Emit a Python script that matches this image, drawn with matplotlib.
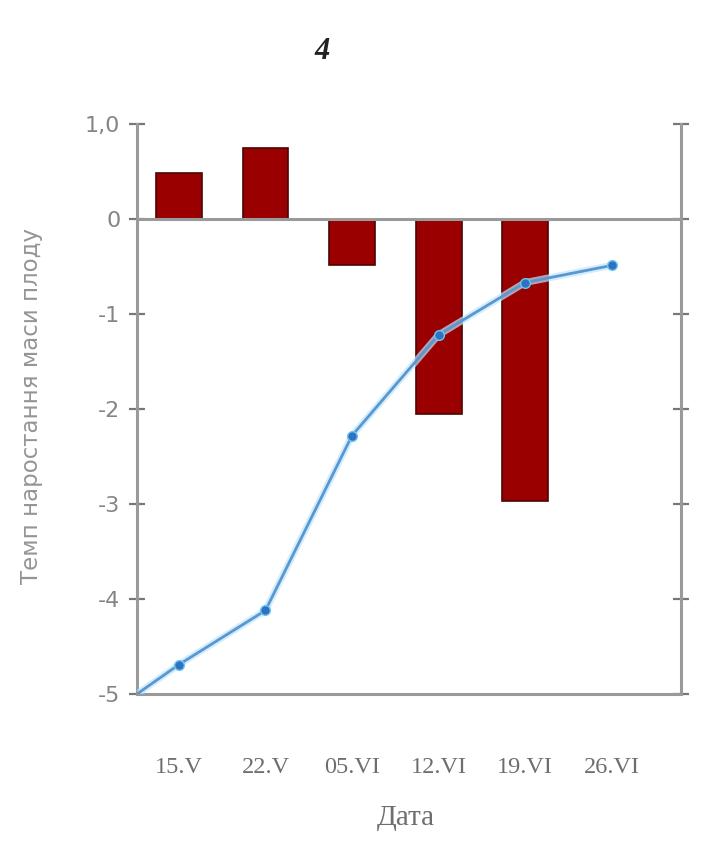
import matplotlib
matplotlib.use("Agg")
import matplotlib.pyplot as plt
import numpy as np

# ---- data ----
dates = ["15.V", "22.V", "05.VI", "12.VI", "19.VI", "26.VI"]
bar_values = [0.48, 0.75, -0.49, -2.05, -2.97]          # bars for first five dates
line_start = -5.0                                        # line begins at the axis corner
line_values = [-4.69, -4.12, -2.28, -1.22, -0.67, -0.49]
y_ticks = [1.0, 0, -1, -2, -3, -4, -5]
y_tick_labels = ["1,0", "0", "-1", "-2", "-3", "-4", "-5"]
panel_label = "4"
x_title = "Дата"
y_title = "Темп наростання маси плоду"

# ---- figure ----
fig = plt.figure(figsize=(7.19, 8.6), dpi=100)
ax = fig.add_axes([0.1905, 0.193, 0.7565, 0.663])

axis_col = "#9a9a9a"
text_col = "#6e6e6e"

x = np.arange(len(dates))
ax.set_xlim(-0.485, 5.80)
ax.set_ylim(-5, 1.0)

ax.bar(x[:len(bar_values)], bar_values, width=0.53, color="#9b0000",
       edgecolor="#4a0505", linewidth=1.2, zorder=2)

ax.axhline(0, color=axis_col, lw=2.2, zorder=3)

lx = np.concatenate([[ax.get_xlim()[0]], x])
ly = np.concatenate([[line_start], line_values])
ax.plot(lx, ly, color="#bfe6ff", lw=5, alpha=0.7, zorder=4, solid_capstyle="round")
ax.plot(lx, ly, color="#5a97cf", lw=2.0, zorder=5)
ax.plot(x, line_values, ls="none", marker="o", ms=7, color="#2f72c0",
        markeredgecolor="#6cc6f5", markeredgewidth=1.0, zorder=6)

ax.spines["top"].set_visible(False)
for side in ["left", "right", "bottom"]:
    ax.spines[side].set_color(axis_col)
    ax.spines[side].set_linewidth(2.2)

ax.set_yticks(y_ticks)
ax.set_yticklabels(y_tick_labels, fontsize=16, color="#858585")
ax.tick_params(axis="y", which="both", direction="inout", length=12, width=1.6,
               color="#777777", right=True, labelright=False, pad=6)
ax.set_xticks(x)
ax.set_xticklabels(dates, fontsize=17.5, family="Liberation Serif", color=text_col)
ax.tick_params(axis="x", length=0, pad=45)

ax.set_xlabel(x_title, fontsize=21, family="Liberation Serif", color=text_col)
ax.xaxis.set_label_coords(0.494, -0.194)
ax.set_ylabel(y_title, fontsize=16.5, color="#959595")
ax.yaxis.set_label_coords(-0.173, 0.505)

fig.text(0.448, 0.94, panel_label, fontsize=22, family="Liberation Serif",
         style="italic", weight="bold", ha="center", va="center", color="#222222")

fig.savefig("out.png", dpi=100, facecolor="white")
